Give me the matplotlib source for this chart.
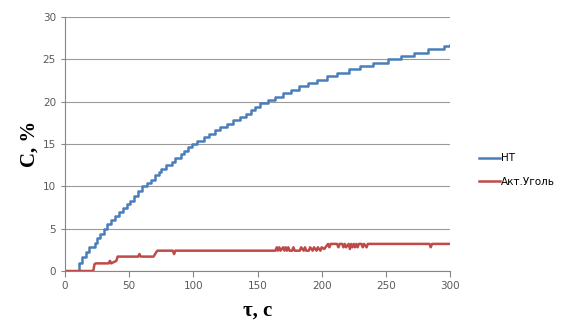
import matplotlib
matplotlib.use("Agg")
import matplotlib.pyplot as plt
from matplotlib.lines import Line2D

# Blue series "НТ": times (s) at which the stepped reading changes, and levels (%)
nt_t = [0, 11, 13, 16, 19, 23, 25, 27, 30, 33, 36, 39, 42, 45, 48, 51, 54, 57,
        60, 64, 67, 70, 73, 75, 79, 83, 86, 90, 93, 96, 99, 103, 108, 112, 117,
        121, 126, 131, 136, 141, 145, 148, 152, 158, 164, 170, 176, 182, 189,
        196, 204, 212, 221, 230, 240, 252, 262, 272, 283, 295, 300]
nt_c = [0, 1.0, 1.7, 2.2, 2.8, 3.3, 3.9, 4.4, 5.0, 5.5, 6.0, 6.5, 7.0, 7.4, 7.9,
        8.3, 8.8, 9.4, 10.0, 10.4, 10.8, 11.3, 11.7, 12.1, 12.5, 12.9, 13.3,
        13.8, 14.2, 14.6, 15.0, 15.4, 15.8, 16.2, 16.6, 17.0, 17.4, 17.8, 18.2,
        18.6, 19.0, 19.4, 19.8, 20.2, 20.6, 21.0, 21.4, 21.8, 22.2, 22.6, 23.0,
        23.4, 23.8, 24.2, 24.6, 25.0, 25.4, 25.8, 26.2, 26.6, 26.7]

# Red series "Акт.Уголь"
ac_t = [0, 22, 23, 24, 34, 35, 36, 40, 41, 57, 58, 59, 69, 71, 72, 84, 85, 86,
        164, 165, 166, 167, 168, 170, 171, 172, 173, 174, 175, 177, 178, 179,
        183, 184, 186, 187, 188, 190, 191, 193, 194, 196, 197, 199, 200, 202,
        203, 205, 206, 207, 208, 212, 213, 214, 216, 217, 218, 219, 221, 222,
        223, 224, 225, 226, 227, 228, 229, 231, 232, 233, 235, 236, 238, 239,
        284, 285, 286, 300]
ac_c = [0, 0, 0.8, 0.9, 0.9, 1.2, 0.9, 1.2, 1.7, 1.7, 2.0, 1.7, 1.7, 2.2, 2.4,
        2.4, 2.0, 2.4, 2.4, 2.8, 2.4, 2.8, 2.4, 2.8, 2.4, 2.8, 2.4, 2.8, 2.4,
        2.4, 2.8, 2.4, 2.4, 2.8, 2.4, 2.8, 2.4, 2.4, 2.8, 2.4, 2.8, 2.4, 2.8,
        2.4, 2.8, 2.6, 2.8, 3.2, 2.8, 3.2, 3.2, 3.2, 2.8, 3.2, 3.2, 2.8, 3.2,
        2.8, 3.2, 2.6, 3.2, 2.8, 3.2, 2.8, 3.2, 2.8, 3.2, 3.2, 2.8, 3.2, 2.8,
        3.2, 3.2, 3.2, 3.2, 2.8, 3.2, 3.2]

x_ticks = [0, 50, 100, 150, 200, 250, 300]
y_ticks = [0, 5, 10, 15, 20, 25, 30]

blue = "#4A7EBB"
red = "#BE4B48"
gray = "#868686"

fig = plt.figure(figsize=(5.64, 3.33), dpi=100)
ax = fig.add_axes([65/564, 1-271/333, (450-65)/564, (271-17)/333])

ax.plot(nt_t, nt_c, color=blue, lw=1.8, drawstyle="steps-post")
ax.plot(ac_t, ac_c, color=red, lw=1.8, solid_joinstyle="round")

ax.set_xlim(0, 300)
ax.set_ylim(0, 30)
ax.set_xticks(x_ticks)
ax.set_yticks(y_ticks)
ax.grid(axis="y", color="#9A9A9A", lw=0.8)
ax.set_axisbelow(True)
for s in ["top", "right"]:
    ax.spines[s].set_visible(False)
for s in ["left", "bottom"]:
    ax.spines[s].set_color(gray)
    ax.spines[s].set_linewidth(0.8)
ax.tick_params(axis="x", colors=gray, length=4, width=0.8, labelsize=7.5, labelcolor="#595959")
ax.tick_params(axis="y", colors=gray, length=3, width=0.8, labelsize=7.5, labelcolor="#595959")

fig.text(30/564, 1-144/333, "C, %", rotation=90, ha="center", va="center",
         family="Liberation Serif", fontweight="bold", fontsize=15)
fig.text(258/564, 1-311/333, "τ, c", ha="center", va="center",
         family="Liberation Serif", fontweight="bold", fontsize=15)

handles = [Line2D([], [], color=blue, lw=1.8), Line2D([], [], color=red, lw=1.8)]
fig.legend(handles, ["НТ", "Акт.Уголь"], loc="center left",
           bbox_to_anchor=(470/564, 1-170/333), frameon=False, fontsize=7.5,
           handlelength=2.0, handletextpad=0.1, labelspacing=1.3)

fig.savefig("out.png", dpi=100)
